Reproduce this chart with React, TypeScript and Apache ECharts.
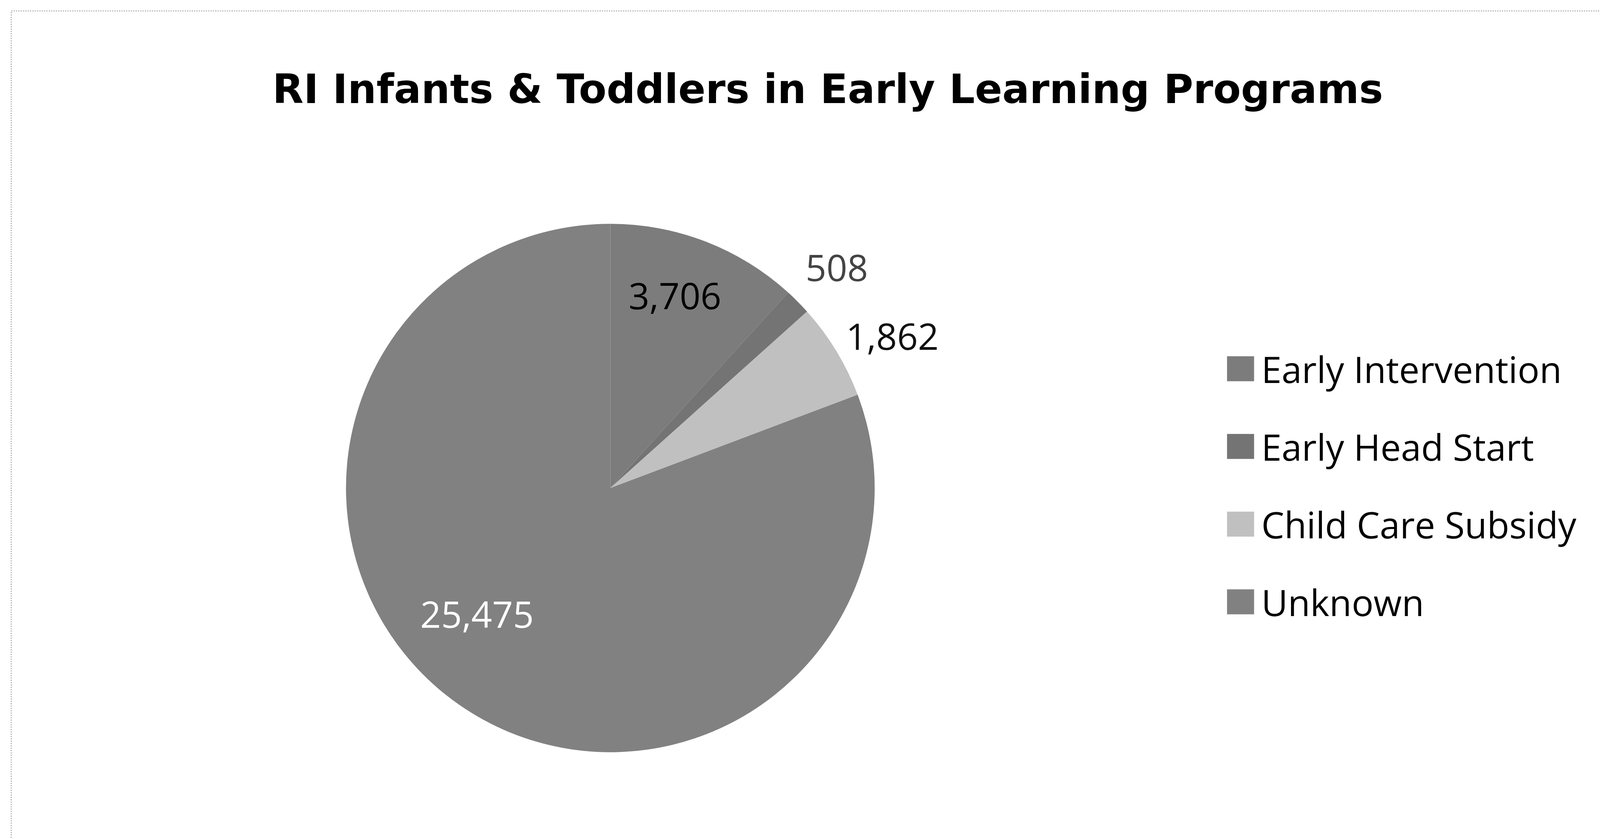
import React, { useEffect, useRef } from "react";
import * as echarts from "echarts";

const titleText = "RI Infants & Toddlers in Early Learning Programs";
const categories = ["Early Intervention", "Early Head Start", "Child Care Subsidy", "Unknown"];
const values = [3706, 508, 1862, 25475];
const sliceColors = ["#7c7c7c", "#747474", "#c0c0c0", "#818181"];
const labelColors = ["#000000", "#444444", "#111111", "#ffffff"];
const labelPositions = ["inside", "outside", "outside", "inside"];

const REF_W = 4260;
const REF_H = 2149;

export default function App() {
  const ref = useRef<HTMLDivElement>(null);
  useEffect(() => {
    const el = ref.current;
    if (!el) return;
    const W = el.clientWidth || REF_W;
    const H = el.clientHeight || REF_H;
    const kx = W / REF_W;
    const ky = H / REF_H;
    const X = (v: number) => v * kx;
    const Y = (v: number) => v * ky;
    const S = (v: number) => v * kx;
    const R = (v: number) => v * (kx + ky) / 2;
    const chart = echarts.init(el, null, { renderer: "svg" });
    const fmt = (v: number) => v.toLocaleString("en-US");
    const labelShift: Record<number, [number, number]> = {
      0: [44, -176],
      1: [-20, -56],
      2: [-22, -14],
      3: [-153, 41],
    };
    chart.setOption({
      animation: false,
      backgroundColor: "#ffffff",
      title: {
        text: titleText,
        left: X(2204),
        top: Y(176),
        textAlign: "center",
        padding: 0,
        textStyle: { fontFamily: "DejaVu Sans", fontWeight: "bold", fontSize: S(107.5), color: "#000" },
      },
      legend: {
        orient: "vertical",
        left: X(3267),
        top: Y(898),
        padding: 0,
        itemWidth: S(72),
        itemHeight: Y(64),
        itemGap: Y(106),
        icon: "rect",
        data: categories,
        textStyle: {
          fontFamily: "Open Sans",
          fontSize: S(97),
          color: "#000",
          padding: [0, 0, 0, S(14)],
        },
      },
      graphic: [
        {
          type: "rect",
          shape: { x: X(30), y: Y(28), width: W + 200, height: H + 200 },
          style: { fill: "none", stroke: "#b5b5b5", lineWidth: 3, lineDash: [3, 3] },
          silent: true,
        },
      ],
      series: [
        {
          type: "pie",
          center: [X(1625), Y(1250)],
          radius: [0, R(690)],
          startAngle: 90,
          clockwise: true,
          avoidLabelOverlap: false,
          itemStyle: { borderWidth: 0 },
          label: {
            fontFamily: "Open Sans",
            fontSize: S(97),
            formatter: (p: any) => fmt(p.value),
          },
          labelLine: { show: false, length: S(50), length2: 0 },
          labelLayout: (p: any) => {
            const o = labelShift[p.dataIndex];
            if (o) return { dx: X(o[0]), dy: Y(o[1]) };
            return {};
          },
          data: categories.map((name, i) => ({
            name,
            value: values[i],
            itemStyle: { color: sliceColors[i] },
            label: { position: labelPositions[i], color: labelColors[i] },
          })),
        },
      ],
    });
    return () => chart.dispose();
  }, []);
  return (
    <div
      ref={ref}
      style={{ position: "fixed", left: 0, top: 0, right: 0, bottom: 0 }}
    />
  );
}
